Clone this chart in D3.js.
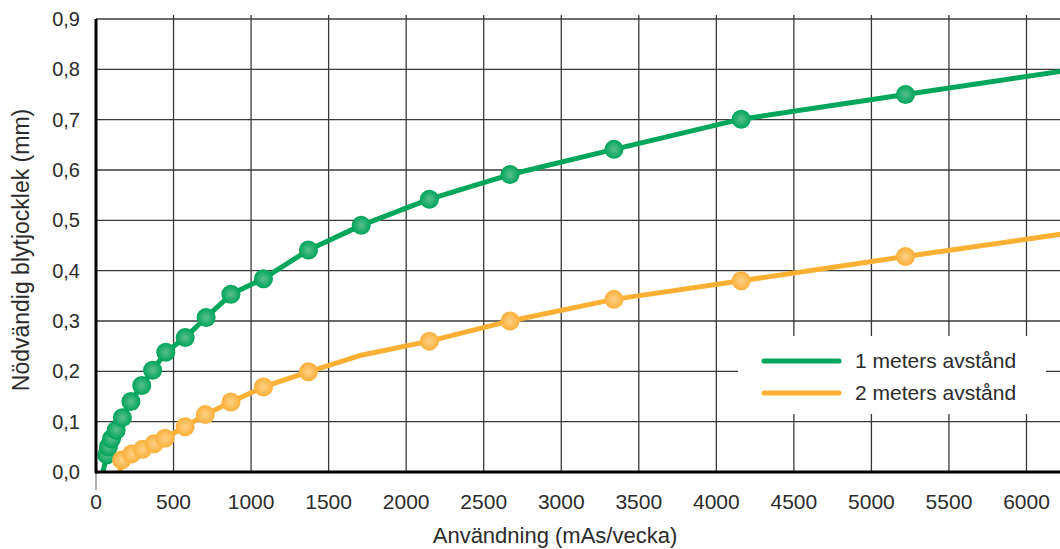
<!DOCTYPE html>
<html>
<head>
<meta charset="utf-8">
<script src="https://cdn.jsdelivr.net/npm/d3@7"></script>
<style>
  html, body { margin: 0; padding: 0; background: #fff; }
  svg { display: block; }
  text { font-family: "Liberation Sans", Arial, sans-serif; fill: #2b2b2b; }
</style>
</head>
<body>
<svg id="chart" width="1060" height="549"></svg>
<script>
// ---- data ----
const xTicks = [0, 500, 1000, 1500, 2000, 2500, 3000, 3500, 4000, 4500, 5000, 5500, 6000];
const yTicks = [0, 0.1, 0.2, 0.3, 0.4, 0.5, 0.6, 0.7, 0.8, 0.9];
const yTickLabels = ["0,0", "0,1", "0,2", "0,3", "0,4", "0,5", "0,6", "0,7", "0,8", "0,9"];

const seriesNames = ["1 meters avstånd", "2 meters avstånd"];

const greenX = [45, 70, 80, 100, 130, 170, 225, 295, 365, 450, 575, 710, 870, 1080, 1370, 1710, 2150, 2670, 3340, 4160, 5220, 6530];
const greenY = [0, 0.034, 0.05, 0.066, 0.083, 0.108, 0.14, 0.172, 0.202, 0.238, 0.267, 0.307, 0.353, 0.384, 0.441, 0.49, 0.542, 0.591, 0.641, 0.701, 0.75, 0.81];
const greenDot = [false, true, true, true, true, true, true, true, true, true, true, true, true, true, true, true, true, true, true, true, true, false];

const orangeX = [155, 165, 230, 300, 375, 445, 575, 705, 870, 1080, 1370, 1710, 2150, 2670, 3340, 4160, 5220, 6530];
const orangeY = [0, 0.024, 0.036, 0.045, 0.056, 0.067, 0.09, 0.114, 0.139, 0.169, 0.199, 0.232, 0.26, 0.30, 0.343, 0.38, 0.428, 0.486];
const orangeDot = [false, true, true, true, true, true, true, true, true, true, true, false, true, true, true, true, true, false];

const xTitle = "Användning (mAs/vecka)";
const yTitle = "Nödvändig blytjocklek (mm)";

// ---- layout ----
const W = 1060, H = 549;
const mLeft = 96, mBottom = 472, mTop = 19;
const svg = d3.select("#chart");

const x = d3.scaleLinear().domain([0, 6000]).range([mLeft, 1026.5]);
const y = d3.scaleLinear().domain([0, 0.9]).range([mBottom, mTop]);

// gradients
const defs = svg.append("defs");
function grad(id, inner, outer) {
  const g = defs.append("radialGradient").attr("id", id)
    .attr("cx", "50%").attr("cy", "50%").attr("r", "50%");
  g.append("stop").attr("offset", "0%").attr("stop-color", inner);
  g.append("stop").attr("offset", "55%").attr("stop-color", d3.interpolateRgb(inner, outer)(0.55));
  g.append("stop").attr("offset", "100%").attr("stop-color", outer);
}
grad("gGreen", "#5cbf8f", "#00a35a");
grad("gOrange", "#fdcf85", "#fbb03b");

// grid
const grid = svg.append("g");
grid.selectAll("line.v").data(xTicks.filter(d => d > 0)).join("line")
  .attr("x1", d => x(d)).attr("x2", d => x(d))
  .attr("y1", 15).attr("y2", mBottom)
  .attr("stroke", "#3a3a3a").attr("stroke-width", 1.3);
grid.selectAll("line.h").data(yTicks.filter(d => d > 0)).join("line")
  .attr("x1", mLeft).attr("x2", W)
  .attr("y1", d => y(d)).attr("y2", d => y(d))
  .attr("stroke", "#3a3a3a").attr("stroke-width", 1.3);

// legend background
svg.append("rect").attr("x", 738).attr("y", 336).attr("width", 308).attr("height", 78).attr("fill", "#fff");

// axes
svg.append("line").attr("x1", mLeft).attr("x2", mLeft).attr("y1", mBottom).attr("y2", 490)
  .attr("stroke", "#777").attr("stroke-width", 1.2);

// tick labels
svg.append("g").selectAll("text").data(yTicks).join("text")
  .attr("x", 80).attr("y", d => y(d) + 7)
  .attr("text-anchor", "end").style("font-size", "20px")
  .text((d, i) => yTickLabels[i]);
svg.append("g").selectAll("text").data(xTicks).join("text")
  .attr("x", d => x(d)).attr("y", 509)
  .attr("text-anchor", "middle").style("font-size", "21px")
  .text(d => d);

// titles
svg.append("text").attr("x", 555).attr("y", 543).attr("text-anchor", "middle")
  .style("font-size", "22px").text(xTitle);
svg.append("text").attr("transform", "translate(29,250) rotate(-90)").attr("text-anchor", "middle")
  .style("font-size", "23px").text(yTitle);

// series
const line = d3.line().x(d => x(d[0])).y(d => y(d[1]));
function drawSeries(xs, ys, dots, color, gradId) {
  const pts = xs.map((v, i) => [v, ys[i], dots[i]]);
  const g = svg.append("g");
  g.append("path").datum(pts).attr("d", line)
    .attr("fill", "none").attr("stroke", color).attr("stroke-width", 5)
    .attr("stroke-linejoin", "round").attr("stroke-linecap", "butt");
  g.selectAll("circle").data(pts.filter(p => p[2])).join("circle")
    .attr("cx", d => x(d[0])).attr("cy", d => y(d[1])).attr("r", 9.5)
    .attr("fill", `url(#${gradId})`);
}
drawSeries(greenX, greenY, greenDot, "#00a65a", "gGreen");
drawSeries(orangeX, orangeY, orangeDot, "#fbb034", "gOrange");

// axis lines on top
svg.append("line").attr("x1", mLeft).attr("x2", W).attr("y1", mBottom).attr("y2", mBottom)
  .attr("stroke", "#000").attr("stroke-width", 3);
svg.append("line").attr("x1", mLeft).attr("x2", mLeft).attr("y1", mTop).attr("y2", mBottom + 1.5)
  .attr("stroke", "#000").attr("stroke-width", 3);

// legend
const legend = svg.append("g");
const legendColors = ["#00a65a", "#fbb034"];
const legendY = [361, 393];
seriesNames.forEach((name, i) => {
  legend.append("line").attr("x1", 764).attr("x2", 839)
    .attr("y1", legendY[i]).attr("y2", legendY[i])
    .attr("stroke", legendColors[i]).attr("stroke-width", 5).attr("stroke-linecap", "round");
  legend.append("text").attr("x", 855).attr("y", legendY[i] + 7)
    .style("font-size", "21px").text(name);
});
</script>
</body>
</html>
